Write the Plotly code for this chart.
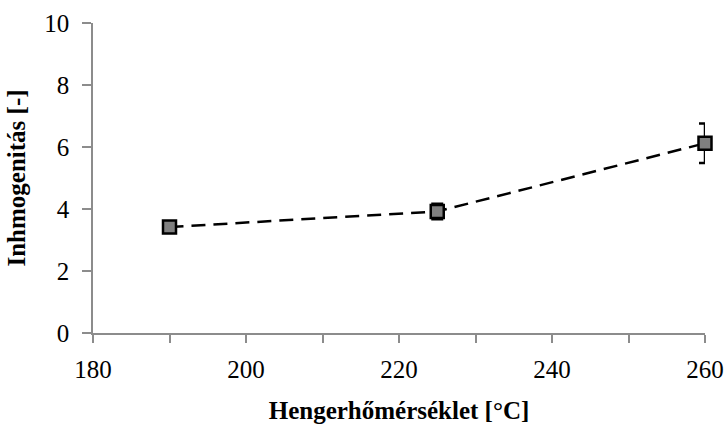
import plotly.graph_objects as go

temps = [190, 225, 260]
inhom = [3.42, 3.92, 6.12]
err = [0.05, 0.25, 0.64]

x_ticks = [180, 200, 220, 240, 260]
y_ticks = [0, 2, 4, 6, 8, 10]

fig = go.Figure()
fig.add_trace(go.Scatter(
    x=temps, y=inhom, mode="lines+markers",
    line=dict(color="black", width=2.5, dash="14px,8px"),
    marker=dict(symbol="square", size=13, color="#808080",
                line=dict(color="black", width=2.5)),
    error_y=dict(type="data", array=err, visible=True, color="black",
                 thickness=2.5, width=6),
    showlegend=False,
    cliponaxis=False,
))

font_family = "Liberation Serif"
axis_color = "#8c8c8c"

fig.update_layout(
    width=727, height=427,
    margin=dict(l=93, r=22, t=23, b=94),
    paper_bgcolor="white", plot_bgcolor="white",
    font=dict(family=font_family, color="black"),
)
fig.update_xaxes(
    range=[180, 260], tickvals=x_ticks, ticktext=[str(v) for v in x_ticks],
    tickfont=dict(size=25, family=font_family, color="black"),
    showline=True, linecolor=axis_color, linewidth=1.5,
    ticks="outside", ticklen=8, tickcolor=axis_color, tickwidth=1.5,
    minor=dict(dtick=10, ticks="outside", ticklen=8, tickcolor=axis_color, tickwidth=1.5),
    showgrid=False, zeroline=False, automargin=False,
    ticklabelstandoff=5,
    title=dict(text="<b>Hengerhőmérséklet [°C]</b>", font=dict(size=25, family=font_family), standoff=20),
)
fig.update_yaxes(
    range=[0, 10], tickvals=y_ticks,
    tickfont=dict(size=25, family=font_family, color="black"),
    showline=True, linecolor=axis_color, linewidth=1.5,
    ticks="outside", ticklen=9, tickcolor=axis_color, tickwidth=1.5,
    showgrid=False, zeroline=False, automargin=False,
    ticklabelstandoff=8,
    title=dict(text="<b>Inhmogenitás [-]</b>", font=dict(size=25, family=font_family), standoff=12),
)

fig.write_html("out.html")
